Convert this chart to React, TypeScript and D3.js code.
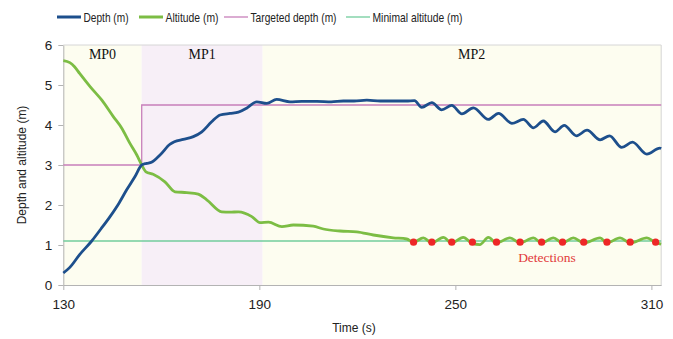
import React, { useEffect, useRef } from "react";
import * as d3 from "d3";

// depth of the vehicle (m) over time (s)
const depthTime = [
  130, 132, 135, 138.7, 141.5, 144.3, 147, 149.4, 152, 154, 155.5, 157, 159.6, 162.7, 164, 166.7,
  169.8, 172.4, 175.4, 178, 181, 183.6, 186.1, 189.2, 192.3, 195.3, 199.4, 203, 207.6, 212, 215.7,
  219, 222.9, 227, 231, 235, 237.5, 239.7, 242.8, 245.8, 248.9, 252, 255.5, 260.1, 263.2, 267.3,
  270.8, 273.9, 276.9, 280.5, 283.3, 287.1, 290.3, 294.3, 297.2, 300.9, 304.2, 308.6, 312.6, 313,
];
const depthValue = [
  0.3, 0.44, 0.76, 1.1, 1.4, 1.71, 2.04, 2.38, 2.72, 3.0, 3.04, 3.07, 3.25, 3.52, 3.58, 3.64,
  3.71, 3.83, 4.08, 4.25, 4.29, 4.32, 4.42, 4.58, 4.54, 4.64, 4.58, 4.59, 4.59, 4.58, 4.6,
  4.6, 4.62, 4.6, 4.6, 4.6, 4.61, 4.44, 4.56, 4.38, 4.49, 4.28, 4.43, 4.14, 4.29, 4.04,
  4.14, 3.93, 4.1, 3.83, 3.99, 3.73, 3.87, 3.63, 3.73, 3.44, 3.57, 3.27, 3.42, 3.41,
];

// altitude above the seabed (m)
const altitudeTime = [
  130, 132, 133.5, 135, 138.2, 141.8, 145.3, 147.9, 150.4, 152.5, 154, 155.3, 157.5, 161.1, 164.2,
  167.8, 171.3, 173.9, 178.5, 181, 183.6, 187.7, 190.2, 192.8, 196.9, 200.4, 206.5, 209.6, 214.7,
  219.8, 224.9, 231, 235.1, 237.2, 240.2, 242.8, 246.3, 248.9, 252.4, 255.2, 257.5, 260.1, 262.6,
  266.7, 269.8, 273.9, 276.4, 280, 282.8, 286.1, 289.3, 294.3, 296.4, 300.4, 303.5, 308.6, 311.3, 313,
];
const altitudeValue = [
  5.61, 5.56, 5.45, 5.29, 4.96, 4.62, 4.21, 3.92, 3.54, 3.25, 3.0, 2.83, 2.77, 2.58, 2.33,
  2.31, 2.27, 2.13, 1.83, 1.82, 1.83, 1.71, 1.56, 1.57, 1.46, 1.5, 1.47, 1.4, 1.35,
  1.33, 1.25, 1.18, 1.15, 1.07, 1.18, 1.05, 1.19, 1.05, 1.19, 1.04, 1.01, 1.19, 1.05,
  1.18, 1.05, 1.18, 1.05, 1.18, 1.05, 1.18, 1.05, 1.18, 1.05, 1.18, 1.05, 1.18, 1.06, 1.02,
];

const targetTime = [130, 154, 154, 313];
const targetDepth = [3, 3, 4.5, 4.5];
const minimalAltitude = 1.1;

const detectionTime = [237.2, 242.8, 248.9, 255.2, 262.6, 269.8, 276.4, 282.8, 289.3, 296.4, 303.5, 311.3];
const detectionValue = [1.07, 1.07, 1.07, 1.07, 1.07, 1.07, 1.07, 1.07, 1.07, 1.07, 1.07, 1.07];

const phaseNames = ["MP0", "MP1", "MP2"];
const phaseStart = [130, 154, 191];
const phaseEnd = [154, 191, 313];
const phaseLabelAt = [142, 172.5, 255];
const phaseColors = ["#fdfdf0", "#f7eff7", "#fdfdf0"];

const xTicks = [130, 190, 250, 310];
const yTicks = [0, 1, 2, 3, 4, 5, 6];

const legendNames = ["Depth (m)", "Altitude (m)", "Targeted depth (m)", "Minimal altitude (m)"];
const legendColors = ["#1d4f8c", "#7cbd44", "#c77fba", "#72cc9c"];
const legendWidths = [3, 3, 1.3, 1.3];
const legendX = [57, 139, 224, 346];
const legendTextLen = [45, 53, 86, 90];

const sans = "'Liberation Sans', Arial, sans-serif";
const serif = "'Liberation Serif', 'Times New Roman', serif";

function App() {
  const ref = useRef<SVGSVGElement>(null);

  useEffect(() => {
    const svg = d3.select(ref.current);
    svg.selectAll("*").remove();

    const x = d3.scaleLinear().domain([130, 313]).range([63.3, 661.2]);
    const y = d3.scaleLinear().domain([0, 6]).range([285, 45]);

    // phase backgrounds
    svg
      .selectAll(".phase")
      .data(phaseNames)
      .enter()
      .append("rect")
      .attr("x", (d, i) => x(phaseStart[i]))
      .attr("width", (d, i) => x(phaseEnd[i]) - x(phaseStart[i]))
      .attr("y", y(6))
      .attr("height", y(0) - y(6))
      .attr("fill", (d, i) => phaseColors[i]);

    // frame top + right
    svg
      .append("path")
      .attr("d", `M${x(130)},${y(6)}H${x(313)}V${y(0)}`)
      .attr("fill", "none")
      .attr("stroke", "#d6d6d6");

    // axes
    const yAxis = svg
      .append("g")
      .attr("transform", `translate(${x(130)},0)`)
      .call(
        d3.axisLeft(y).tickValues(yTicks).tickFormat(d3.format("d")).tickSize(5).tickSizeOuter(0).tickPadding(6)
      );
    const xAxis = svg
      .append("g")
      .attr("transform", `translate(0,${y(0)})`)
      .call(d3.axisBottom(x).tickValues(xTicks).tickFormat(d3.format("d")).tickSize(5).tickSizeOuter(0).tickPadding(9));
    [xAxis, yAxis].forEach((g) => {
      g.selectAll("path, line").attr("stroke", "#b3b3b3");
      g.selectAll("text").attr("font-family", sans).attr("font-size", 13.5).attr("fill", "#222");
    });

    svg
      .selectAll(".mp")
      .data(phaseNames)
      .enter()
      .append("text")
      .attr("x", (d, i) => x(phaseLabelAt[i]))
      .attr("y", 59)
      .attr("text-anchor", "middle")
      .attr("font-family", serif)
      .attr("font-size", 14)
      .attr("fill", "#111")
      .text((d) => d);

    // reference lines
    const line = d3
      .line<number>()
      .x((d) => x(d))
      .y((d, i) => y(targetDepth[i]));
    svg
      .append("path")
      .attr("d", line(targetTime))
      .attr("fill", "none")
      .attr("stroke", legendColors[2])
      .attr("stroke-width", 1.3);
    svg
      .append("line")
      .attr("x1", x(130))
      .attr("x2", x(313))
      .attr("y1", y(minimalAltitude))
      .attr("y2", y(minimalAltitude))
      .attr("stroke", legendColors[3])
      .attr("stroke-width", 1.3);

    // series
    const curve = (ts: number[], vs: number[]) =>
      d3
        .line<number>()
        .x((d) => x(d))
        .y((d, i) => y(vs[i]))
        .curve(d3.curveMonotoneX)(ts);
    svg
      .append("path")
      .attr("d", curve(altitudeTime, altitudeValue))
      .attr("fill", "none")
      .attr("stroke", legendColors[1])
      .attr("stroke-width", 2.8)
      .attr("stroke-linejoin", "round");
    svg
      .append("path")
      .attr("d", curve(depthTime, depthValue))
      .attr("fill", "none")
      .attr("stroke", legendColors[0])
      .attr("stroke-width", 2.8)
      .attr("stroke-linejoin", "round");

    // detections
    svg
      .selectAll(".det")
      .data(detectionTime)
      .enter()
      .append("circle")
      .attr("cx", (d) => x(d))
      .attr("cy", (d, i) => y(detectionValue[i]))
      .attr("r", 3.6)
      .attr("fill", "#ee2727");
    svg
      .append("text")
      .attr("x", 547)
      .attr("y", 262)
      .attr("text-anchor", "middle")
      .attr("font-family", serif)
      .attr("font-size", 13.5)
      .attr("fill", "#e23a3a")
      .text("Detections");

    // titles
    svg
      .append("text")
      .attr("transform", `translate(26,${y(3)}) rotate(-90)`)
      .attr("text-anchor", "middle")
      .attr("font-family", sans)
      .attr("font-size", 12)
      .attr("fill", "#222")
      .text("Depth and altitude (m)");
    svg
      .append("text")
      .attr("x", 354)
      .attr("y", 332)
      .attr("text-anchor", "middle")
      .attr("font-family", sans)
      .attr("font-size", 12)
      .attr("fill", "#222")
      .text("Time (s)");

    // legend
    const leg = svg
      .selectAll(".leg")
      .data(legendNames)
      .enter()
      .append("g")
      .attr("transform", (d, i) => `translate(${legendX[i]},17)`);
    leg
      .append("line")
      .attr("x2", 24)
      .attr("stroke", (d, i) => legendColors[i])
      .attr("stroke-width", (d, i) => legendWidths[i]);
    leg
      .append("text")
      .attr("x", 26.5)
      .attr("y", 5)
      .attr("font-family", sans)
      .attr("font-size", 13.5)
      .attr("textLength", (d, i) => legendTextLen[i])
      .attr("lengthAdjust", "spacingAndGlyphs")
      .attr("fill", "#222")
      .text((d) => d);
  }, []);

  return (
    <svg
      ref={ref}
      width={673}
      height={339}
      style={{ position: "absolute", left: 0, top: 0, background: "#fff" }}
    />
  );
}

export default App;
